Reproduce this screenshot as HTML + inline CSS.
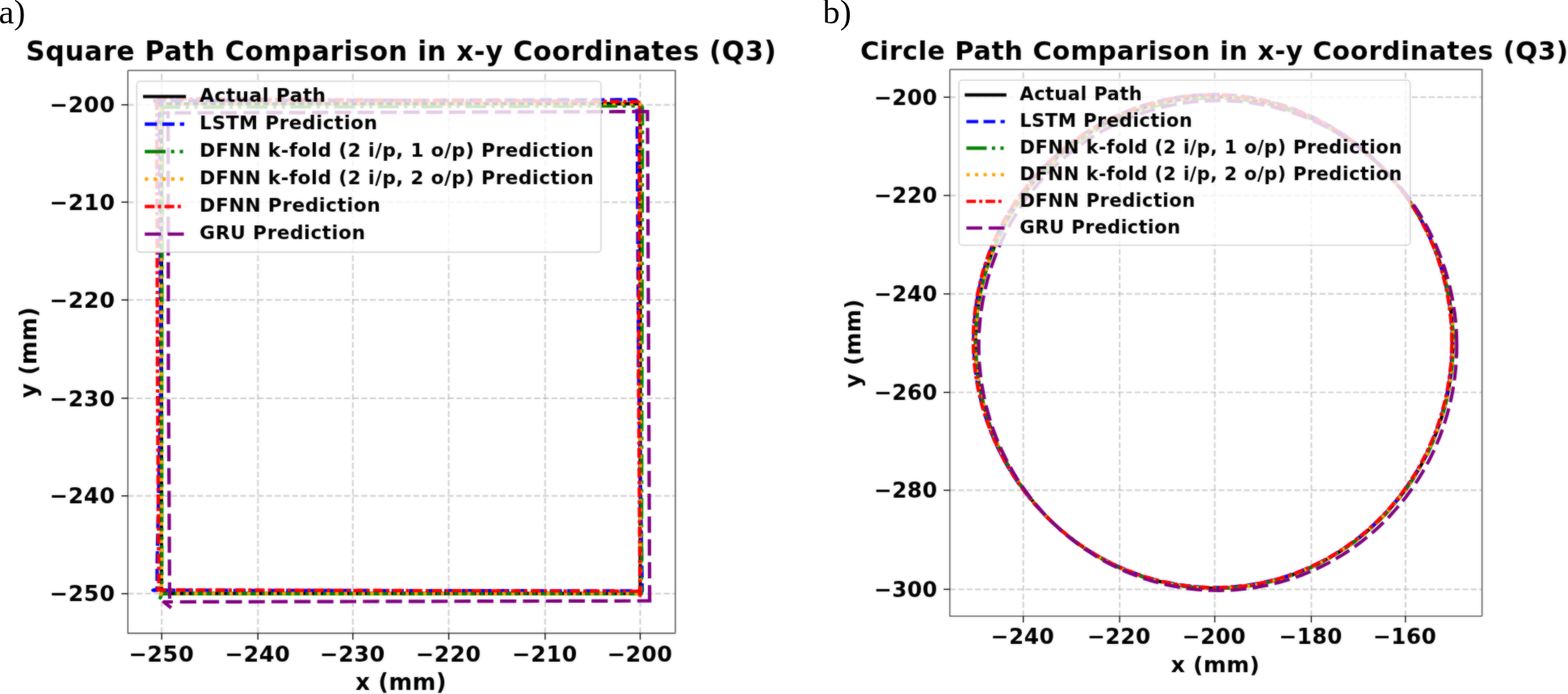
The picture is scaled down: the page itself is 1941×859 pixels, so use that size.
<!DOCTYPE html>
<html lang="en"><head><meta charset="utf-8"><title>Figure</title>
<style>
html,body{margin:0;padding:0;background:#fff;}
body{width:1941px;height:859px;overflow:hidden;position:relative;}
#fig{position:absolute;left:0;top:0;width:1941px;height:859px;}
svg{position:absolute;left:0;top:0;display:block;}
text{font-family:"DejaVu Sans","Liberation Sans",sans-serif;font-weight:bold;fill:#000;white-space:pre;}
.serif{font-family:"Liberation Serif","DejaVu Serif",serif;font-weight:normal;}
.grid{stroke:#b0b0b0;stroke-opacity:.58;fill:none;}
.spine{stroke:#4a4a4a;fill:none;}
.spine2{stroke:#5c5c5c;fill:none;}
.tk{stroke:#000;fill:none;}
.ln{fill:none;stroke-linejoin:round;stroke-linecap:butt;}
</style></head><body>
<div id="fig">
<svg width="1941" height="859" viewBox="0 0 1941 859">
<defs><filter id="soft" x="0" y="0" width="1941" height="859" filterUnits="userSpaceOnUse" color-interpolation-filters="sRGB"><feGaussianBlur stdDeviation="1"/></filter></defs>
<g id="plot">
<rect x="0" y="0" width="1941" height="859" fill="#fff"/>
<g id="panel-a">
<clipPath id="clip-panel-a"><rect x="158.3" y="87.3" width="677.70" height="696.40"/></clipPath>
<g class="grid" stroke-width="2.00" stroke-dasharray="7.47 3.23">
<line x1="200.20" y1="783.7" x2="200.20" y2="87.3" stroke-dashoffset="0"/>
<line x1="319.30" y1="783.7" x2="319.30" y2="87.3" stroke-dashoffset="0"/>
<line x1="436.80" y1="783.7" x2="436.80" y2="87.3" stroke-dashoffset="0"/>
<line x1="555.50" y1="783.7" x2="555.50" y2="87.3" stroke-dashoffset="0"/>
<line x1="674.80" y1="783.7" x2="674.80" y2="87.3" stroke-dashoffset="0"/>
<line x1="792.50" y1="783.7" x2="792.50" y2="87.3" stroke-dashoffset="0"/>
<line x1="158.3" y1="129.75" x2="836.0" y2="129.75" stroke-dashoffset="0"/>
<line x1="158.3" y1="250.20" x2="836.0" y2="250.20" stroke-dashoffset="0"/>
<line x1="158.3" y1="371.30" x2="836.0" y2="371.30" stroke-dashoffset="0"/>
<line x1="158.3" y1="492.90" x2="836.0" y2="492.90" stroke-dashoffset="0"/>
<line x1="158.3" y1="613.78" x2="836.0" y2="613.78" stroke-dashoffset="0"/>
<line x1="158.3" y1="734.85" x2="836.0" y2="734.85" stroke-dashoffset="0"/>
</g>
<g clip-path="url(#clip-panel-a)">
<path class="ln" d="M199.90,128.50 L790.50,128.40 Q792.50,128.40 792.50,130.40 L792.60,734.60 L199.90,734.60 L199.90,128.50" stroke="#000000" stroke-width="4.2"/>
<path class="ln" d="M189.60,124.80 L785.10,123.41 Q788.60,123.40 788.64,126.90 L790.50,460.00 L795.00,731.40 L189.30,730.60 L194.50,729.50 L194.50,700.00 L199.30,460.00 L197.30,124.80" stroke="#0000ff" stroke-width="4.2" stroke-dasharray="15.10 6.65"/>
<path class="ln" d="M197.30,132.70 L792.70,131.11 Q795.20,131.10 795.20,133.60 L794.00,734.80 L200.40,734.90 L198.30,740.00 L200.40,734.90 L200.20,460.00 L201.00,132.70" stroke="#008000" stroke-width="4.2" stroke-dasharray="25.80 6.70 4.10 6.70 4.10 6.70"/>
<path class="ln" d="M191.00,128.60 L790.60,128.30 Q792.60,128.30 792.60,130.30 L792.80,734.60 L200.00,734.60 L195.60,739.40 L200.00,734.60 L199.40,128.60" stroke="#ffa500" stroke-width="4.2" stroke-dasharray="4.20 6.70"/>
<path class="ln" d="M194.10,122.00 L788.20,125.88 Q791.70,125.90 791.70,129.40 L790.40,460.00 L792.30,740.20 L792.30,731.80 L480.00,730.90 L192.00,730.10 L196.50,727.50 L194.90,460.00 L194.10,122.00" stroke="#ff0000" stroke-width="4.2" stroke-dasharray="12.20 4.05 4.10 4.05"/>
<path class="ln" d="M222.8,745.0 L806.4,743.7 M804.2,744.3 L803.0,460.0 L801.5,136.0 M802.5,138.1 L201.8,139.8 M210.0,740.9 L208.45,460.0 L208.1,137.6" stroke="#800080" stroke-width="4.2" stroke-dasharray="20.15 8.15"/>
<path class="ln" d="M211.9,752.4 L202.8,745.0 L214.0,745.0" stroke="#800080" stroke-width="4.2"/>
</g>
<rect x="169.3" y="100.5" width="574.70" height="211.60" rx="4.4" ry="4.4" fill="#fff" fill-opacity="0.8" stroke="#cccccc" stroke-opacity="0.8" stroke-width="1.60"/>
<line x1="177.10" y1="119.50" x2="230.20" y2="119.50" stroke="#000" stroke-width="4.2"/>
<text font-size="23.3" letter-spacing="0.48" x="247.1" y="126.20">Actual Path</text>
<line x1="179.2" y1="153.55" x2="228.1" y2="153.55" stroke="#0000ff" stroke-width="4.2" stroke-dasharray="15.10 6.65"/>
<text font-size="23.3" letter-spacing="0.48" x="247.1" y="160.25">LSTM Prediction</text>
<line x1="179.2" y1="187.60" x2="228.1" y2="187.60" stroke="#008000" stroke-width="4.2" stroke-dasharray="25.80 6.70 4.10 6.70 4.10 6.70"/>
<text font-size="23.3" letter-spacing="0.48" x="247.1" y="194.30">DFNN k-fold (2 i/p, 1 o/p) Prediction</text>
<line x1="179.2" y1="221.65" x2="228.1" y2="221.65" stroke="#ffa500" stroke-width="4.2" stroke-dasharray="4.20 6.70"/>
<text font-size="23.3" letter-spacing="0.48" x="247.1" y="228.35">DFNN k-fold (2 i/p, 2 o/p) Prediction</text>
<line x1="179.2" y1="255.70" x2="228.1" y2="255.70" stroke="#ff0000" stroke-width="4.2" stroke-dasharray="12.20 4.05 4.10 4.05"/>
<text font-size="23.3" letter-spacing="0.48" x="247.1" y="262.40">DFNN Prediction</text>
<line x1="179.2" y1="289.75" x2="228.1" y2="289.75" stroke="#800080" stroke-width="4.2" stroke-dasharray="20.15 8.15"/>
<text font-size="23.3" letter-spacing="0.48" x="247.1" y="296.45">GRU Prediction</text>
<path class="spine" stroke-width="1.35" d="M158.3,87.3 L158.3,783.7 L836.0,783.7"/>
<path class="spine2" stroke-width="1.55" d="M158.3,87.3 L836.0,87.3 L836.0,783.7"/>
<line class="tk" stroke-width="1.35" x1="200.20" y1="783.7" x2="200.20" y2="791.70"/>
<text font-size="27.2" letter-spacing="0.4" text-anchor="middle" x="199.70" y="818.50">−250</text>
<line class="tk" stroke-width="1.35" x1="319.30" y1="783.7" x2="319.30" y2="791.70"/>
<text font-size="27.2" letter-spacing="0.4" text-anchor="middle" x="318.80" y="818.50">−240</text>
<line class="tk" stroke-width="1.35" x1="436.80" y1="783.7" x2="436.80" y2="791.70"/>
<text font-size="27.2" letter-spacing="0.4" text-anchor="middle" x="436.30" y="818.50">−230</text>
<line class="tk" stroke-width="1.35" x1="555.50" y1="783.7" x2="555.50" y2="791.70"/>
<text font-size="27.2" letter-spacing="0.4" text-anchor="middle" x="555.00" y="818.50">−220</text>
<line class="tk" stroke-width="1.35" x1="674.80" y1="783.7" x2="674.80" y2="791.70"/>
<text font-size="27.2" letter-spacing="0.4" text-anchor="middle" x="674.30" y="818.50">−210</text>
<line class="tk" stroke-width="1.35" x1="792.50" y1="783.7" x2="792.50" y2="791.70"/>
<text font-size="27.2" letter-spacing="0.4" text-anchor="middle" x="792.00" y="818.50">−200</text>
<line class="tk" stroke-width="1.35" x1="158.3" y1="129.75" x2="150.30" y2="129.75"/>
<text font-size="27.2" letter-spacing="0.4" text-anchor="end" x="142.50" y="139.35">−200</text>
<line class="tk" stroke-width="1.35" x1="158.3" y1="250.20" x2="150.30" y2="250.20"/>
<text font-size="27.2" letter-spacing="0.4" text-anchor="end" x="142.50" y="259.80">−210</text>
<line class="tk" stroke-width="1.35" x1="158.3" y1="371.30" x2="150.30" y2="371.30"/>
<text font-size="27.2" letter-spacing="0.4" text-anchor="end" x="142.50" y="380.90">−220</text>
<line class="tk" stroke-width="1.35" x1="158.3" y1="492.90" x2="150.30" y2="492.90"/>
<text font-size="27.2" letter-spacing="0.4" text-anchor="end" x="142.50" y="502.50">−230</text>
<line class="tk" stroke-width="1.35" x1="158.3" y1="613.78" x2="150.30" y2="613.78"/>
<text font-size="27.2" letter-spacing="0.4" text-anchor="end" x="142.50" y="623.38">−240</text>
<line class="tk" stroke-width="1.35" x1="158.3" y1="734.85" x2="150.30" y2="734.85"/>
<text font-size="27.2" letter-spacing="0.4" text-anchor="end" x="142.50" y="744.45">−250</text>
<text font-size="33.0" letter-spacing="0.575" x="32.00" y="75.1">Square Path Comparison in x-y Coordinates (Q3)</text>
<text font-size="27.8" letter-spacing="0.3" x="440.00" y="854.3">x (mm)</text>
<text font-size="27.8" letter-spacing="0.3" transform="translate(45.3,492.6) rotate(-90)">y (mm)</text>
</g>
<g id="panel-b">
<clipPath id="clip-panel-b"><rect x="1175.8" y="85.9" width="658.80" height="676.80"/></clipPath>
<g class="grid" stroke-width="1.95" stroke-dasharray="7.26 3.14">
<line x1="1266.70" y1="762.7" x2="1266.70" y2="85.9" stroke-dashoffset="0"/>
<line x1="1386.00" y1="762.7" x2="1386.00" y2="85.9" stroke-dashoffset="0"/>
<line x1="1503.70" y1="762.7" x2="1503.70" y2="85.9" stroke-dashoffset="0"/>
<line x1="1623.30" y1="762.7" x2="1623.30" y2="85.9" stroke-dashoffset="0"/>
<line x1="1739.80" y1="762.7" x2="1739.80" y2="85.9" stroke-dashoffset="0"/>
<line x1="1175.8" y1="120.33" x2="1834.6" y2="120.33" stroke-dashoffset="0"/>
<line x1="1175.8" y1="241.97" x2="1834.6" y2="241.97" stroke-dashoffset="0"/>
<line x1="1175.8" y1="363.79" x2="1834.6" y2="363.79" stroke-dashoffset="0"/>
<line x1="1175.8" y1="485.62" x2="1834.6" y2="485.62" stroke-dashoffset="0"/>
<line x1="1175.8" y1="606.80" x2="1834.6" y2="606.80" stroke-dashoffset="0"/>
<line x1="1175.8" y1="729.43" x2="1834.6" y2="729.43" stroke-dashoffset="0"/>
</g>
<g clip-path="url(#clip-panel-b)">
<path class="ln" d="M1798.6,423.9 1798.5,414.4 1798.0,404.8 1797.3,395.3 1796.3,385.8 1795.0,376.4 1793.4,367.0 1791.5,357.6 1789.3,348.3 1786.9,339.1 1784.2,330.0 1781.1,320.9 1777.9,312.0 1774.3,303.2 1770.5,294.5 1766.4,285.9 1762.1,277.4 1757.5,269.1 1752.6,261.0 1747.5,253.0 1742.2,245.2 1736.6,237.6 1730.8,230.1 1724.8,222.8 1718.5,215.8 1712.1,208.9 1705.4,202.3 1698.5,195.8 1691.5,189.6 1684.2,183.6 1676.8,177.9 1669.2,172.4 1661.4,167.2 1653.5,162.2 1645.5,157.4 1637.3,153.0 1628.9,148.8 1620.5,144.8 1611.9,141.2 1603.2,137.8 1594.4,134.7 1585.6,131.9 1576.6,129.4 1567.6,127.1 1558.5,125.2 1549.3,123.6 1540.2,122.2 1530.9,121.2 1521.7,120.4 1512.4,120.0 1503.1,119.8 1493.8,120.0 1484.6,120.4 1475.3,121.2 1466.1,122.3 1456.9,123.6 1447.8,125.3 1438.7,127.2 1429.6,129.4 1420.7,132.0 1411.8,134.8 1403.1,137.9 1394.4,141.2 1385.8,144.9 1377.3,148.8 1369.0,153.0 1360.8,157.5 1352.7,162.2 1344.8,167.2 1337.1,172.5 1329.5,178.0 1322.0,183.7 1314.8,189.6 1307.7,195.8 1300.9,202.3 1294.2,208.9 1287.7,215.8 1281.5,222.8 1275.4,230.1 1269.6,237.5 1264.0,245.2 1258.7,253.0 1253.6,261.0 1248.7,269.1 1244.1,277.4 1239.7,285.8 1235.7,294.4 1231.8,303.1 1228.3,311.9 1225.0,320.9 1222.0,329.9 1219.2,339.1 1216.8,348.3 1214.6,357.6 1212.8,366.9 1211.2,376.4 1209.9,385.8 1208.9,395.3 1208.2,404.8 1207.8,414.4 1207.6,423.9 1207.8,433.5 1208.3,443.0 1209.0,452.6 1210.1,462.0 1211.4,471.5 1213.1,480.9 1215.0,490.2 1217.2,499.5 1219.7,508.7 1222.4,517.8 1225.5,526.8 1228.8,535.7 1232.4,544.5 1236.2,553.2 1240.3,561.8 1244.7,570.2 1249.3,578.5 1254.2,586.6 1259.3,594.5 1264.6,602.3 1270.2,609.9 1276.0,617.4 1282.0,624.6 1288.2,631.6 1294.7,638.5 1301.3,645.1 1308.2,651.5 1315.2,657.7 1322.4,663.7 1329.8,669.4 1337.4,674.9 1345.1,680.2 1353.0,685.2 1361.0,690.0 1369.2,694.4 1377.5,698.7 1386.0,702.6 1394.5,706.3 1403.2,709.7 1411.9,712.8 1420.8,715.7 1429.7,718.2 1438.7,720.5 1447.8,722.5 1456.9,724.2 1466.1,725.5 1475.3,726.6 1484.6,727.4 1493.8,727.9 1503.1,728.1 1512.4,727.9 1521.7,727.5 1530.9,726.8 1540.2,725.7 1549.4,724.4 1558.5,722.8 1567.6,720.8 1576.6,718.6 1585.6,716.1 1594.5,713.3 1603.3,710.2 1611.9,706.8 1620.5,703.2 1629.0,699.2 1637.3,695.0 1645.5,690.5 1653.6,685.8 1661.5,680.8 1669.2,675.5 1676.8,670.0 1684.2,664.3 1691.5,658.3 1698.5,652.1 1705.4,645.6 1712.1,639.0 1718.5,632.1 1724.7,625.0 1730.8,617.8 1736.6,610.3 1742.1,602.7 1747.5,594.9 1752.6,586.9 1757.4,578.7 1762.0,570.4 1766.3,562.0 1770.4,553.4 1774.2,544.7 1777.8,535.9 1781.1,526.9 1784.1,517.9 1786.8,508.8 1789.3,499.6 1791.4,490.3 1793.3,480.9 1794.9,471.5 1796.2,462.1 1797.3,452.6 1798.0,443.0 1798.4,433.5 1798.6,423.9" stroke="#000000" stroke-width="4.1"/>
<path class="ln" d="M1797.7,423.9 1797.6,414.4 1797.1,404.9 1796.4,395.4 1795.4,385.9 1794.2,376.5 1792.6,367.1 1790.8,357.8 1788.6,348.5 1786.2,339.3 1783.6,330.2 1780.6,321.1 1777.4,312.2 1773.9,303.3 1770.1,294.6 1766.1,286.0 1761.8,277.5 1757.3,269.2 1752.5,261.0 1747.5,253.0 1742.3,245.1 1736.8,237.4 1731.0,229.9 1725.1,222.6 1718.9,215.4 1712.5,208.5 1705.9,201.8 1699.1,195.2 1692.1,188.9 1684.9,182.8 1677.5,177.0 1669.9,171.4 1662.2,166.0 1654.3,160.9 1646.2,156.1 1638.0,151.5 1629.7,147.2 1621.2,143.2 1612.6,139.4 1603.9,135.9 1595.1,132.7 1586.2,129.8 1577.2,127.2 1568.1,124.9 1559.0,122.9 1549.7,121.1 1540.5,119.7 1531.2,118.6 1521.8,117.8 1512.5,117.3 1503.1,117.1 1493.8,117.3 1484.4,117.7 1475.0,118.4 1465.7,119.5 1456.4,120.8 1447.2,122.5 1438.0,124.4 1428.9,126.7 1419.9,129.2 1410.9,132.0 1402.1,135.2 1393.3,138.6 1384.6,142.3 1376.1,146.3 1367.7,150.5 1359.4,155.0 1351.3,159.8 1343.3,164.8 1335.4,170.1 1327.8,175.7 1320.3,181.5 1313.0,187.5 1305.8,193.8 1298.9,200.2 1292.2,207.0 1285.7,213.9 1279.3,221.0 1273.3,228.3 1267.4,235.8 1261.8,243.6 1256.4,251.4 1251.2,259.5 1246.3,267.7 1241.7,276.1 1237.3,284.6 1233.2,293.3 1229.3,302.1 1225.7,311.0 1222.4,320.0 1219.4,329.1 1216.7,338.3 1214.2,347.6 1212.1,357.0 1210.2,366.5 1208.6,376.0 1207.3,385.5 1206.4,395.1 1205.7,404.7 1205.3,414.3 1205.2,423.9 1205.5,433.6 1206.0,443.2 1206.8,452.8 1207.9,462.3 1209.4,471.8 1211.1,481.3 1213.1,490.6 1215.4,500.0 1218.0,509.2 1220.8,518.3 1224.0,527.4 1227.4,536.3 1231.1,545.1 1235.0,553.8 1239.2,562.3 1243.7,570.7 1248.4,579.0 1253.4,587.0 1258.6,595.0 1264.0,602.7 1269.7,610.3 1275.6,617.7 1281.7,624.9 1288.0,631.8 1294.5,638.6 1301.3,645.2 1308.2,651.6 1315.3,657.7 1322.5,663.6 1330.0,669.3 1337.6,674.7 1345.3,679.9 1353.3,684.8 1361.3,689.5 1369.5,693.9 1377.8,698.1 1386.2,702.0 1394.8,705.6 1403.4,709.0 1412.2,712.1 1421.0,714.9 1429.9,717.4 1438.9,719.7 1448.0,721.6 1457.1,723.3 1466.2,724.6 1475.4,725.7 1484.6,726.5 1493.9,727.0 1503.1,727.2 1512.4,727.0 1521.6,726.6 1530.8,725.9 1540.1,724.9 1549.2,723.6 1558.4,722.0 1567.4,720.1 1576.4,717.9 1585.4,715.4 1594.2,712.6 1603.0,709.5 1611.7,706.2 1620.2,702.5 1628.7,698.6 1637.0,694.4 1645.2,690.0 1653.3,685.2 1661.2,680.3 1668.9,675.0 1676.5,669.5 1683.9,663.8 1691.1,657.8 1698.1,651.6 1705.0,645.2 1711.6,638.6 1718.1,631.7 1724.3,624.6 1730.3,617.4 1736.1,609.9 1741.6,602.3 1746.9,594.5 1752.0,586.5 1756.8,578.4 1761.4,570.1 1765.7,561.7 1769.7,553.1 1773.5,544.4 1777.1,535.6 1780.3,526.7 1783.3,517.7 1786.0,508.5 1788.4,499.4 1790.6,490.1 1792.5,480.8 1794.1,471.4 1795.4,461.9 1796.4,452.5 1797.1,443.0 1797.5,433.5 1797.7,423.9" stroke="#0000ff" stroke-width="4.1" stroke-dasharray="14.68 6.47"/>
<path class="ln" d="M1798.9,423.9 1798.7,414.4 1798.3,404.8 1797.6,395.3 1796.5,385.8 1795.2,376.3 1793.6,366.9 1791.7,357.6 1789.5,348.3 1787.1,339.0 1784.3,329.9 1781.3,320.9 1778.0,311.9 1774.4,303.1 1770.5,294.4 1766.4,285.9 1762.1,277.4 1757.4,269.2 1752.5,261.0 1747.4,253.1 1742.0,245.3 1736.4,237.7 1730.6,230.3 1724.5,223.0 1718.3,216.0 1711.8,209.2 1705.1,202.6 1698.2,196.2 1691.1,190.0 1683.8,184.1 1676.4,178.4 1668.8,173.0 1661.0,167.8 1653.1,162.9 1645.0,158.2 1636.8,153.8 1628.5,149.7 1620.0,145.8 1611.5,142.2 1602.8,138.9 1594.1,135.8 1585.2,133.1 1576.3,130.6 1567.3,128.4 1558.2,126.5 1549.1,124.9 1540.0,123.6 1530.8,122.6 1521.6,121.9 1512.4,121.5 1503.1,121.3 1493.9,121.5 1484.7,122.0 1475.5,122.7 1466.3,123.8 1457.1,125.1 1448.1,126.7 1439.0,128.7 1430.0,130.9 1421.1,133.4 1412.3,136.1 1403.5,139.2 1394.9,142.5 1386.3,146.1 1377.9,150.0 1369.6,154.2 1361.4,158.6 1353.4,163.2 1345.5,168.2 1337.7,173.4 1330.1,178.8 1322.7,184.5 1315.4,190.4 1308.3,196.5 1301.5,202.9 1294.8,209.5 1288.3,216.3 1282.0,223.3 1275.9,230.5 1270.1,237.9 1264.5,245.5 1259.1,253.2 1254.0,261.2 1249.1,269.3 1244.4,277.6 1240.1,286.0 1235.9,294.5 1232.1,303.2 1228.5,312.0 1225.2,321.0 1222.1,330.0 1219.4,339.1 1216.9,348.3 1214.7,357.6 1212.8,367.0 1211.2,376.4 1209.9,385.8 1208.9,395.3 1208.2,404.8 1207.8,414.4 1207.6,423.9 1207.8,433.5 1208.3,443.0 1209.0,452.6 1210.1,462.0 1211.4,471.5 1213.1,480.9 1215.0,490.2 1217.2,499.5 1219.7,508.7 1222.4,517.8 1225.5,526.8 1228.8,535.7 1232.4,544.5 1236.2,553.2 1240.3,561.8 1244.7,570.2 1249.3,578.5 1254.2,586.6 1259.3,594.5 1264.6,602.3 1270.2,609.9 1276.0,617.4 1282.0,624.6 1288.2,631.6 1294.7,638.5 1301.3,645.1 1308.2,651.6 1315.2,657.8 1322.4,663.7 1329.8,669.5 1337.4,675.0 1345.1,680.2 1353.0,685.3 1361.0,690.0 1369.2,694.5 1377.5,698.8 1385.9,702.7 1394.5,706.4 1403.1,709.8 1411.9,713.0 1420.7,715.8 1429.7,718.4 1438.7,720.7 1447.7,722.7 1456.9,724.4 1466.1,725.8 1475.3,726.9 1484.6,727.7 1493.8,728.2 1503.1,728.4 1512.4,728.2 1521.7,727.8 1531.0,727.1 1540.2,726.1 1549.4,724.8 1558.6,723.1 1567.7,721.2 1576.7,719.0 1585.7,716.5 1594.6,713.7 1603.4,710.6 1612.1,707.2 1620.7,703.5 1629.2,699.6 1637.5,695.4 1645.7,690.9 1653.8,686.1 1661.7,681.1 1669.5,675.9 1677.1,670.4 1684.5,664.6 1691.8,658.6 1698.8,652.4 1705.7,645.9 1712.3,639.3 1718.8,632.4 1725.0,625.3 1731.1,618.0 1736.9,610.5 1742.4,602.9 1747.8,595.1 1752.9,587.1 1757.7,578.9 1762.3,570.6 1766.7,562.1 1770.7,553.6 1774.6,544.8 1778.1,536.0 1781.4,527.1 1784.4,518.0 1787.1,508.9 1789.6,499.6 1791.8,490.3 1793.7,481.0 1795.3,471.6 1796.6,462.1 1797.6,452.6 1798.3,443.1 1798.8,433.5 1798.9,423.9" stroke="#008000" stroke-width="4.1" stroke-dasharray="25.09 6.52 3.99 6.52 3.99 6.52"/>
<path class="ln" d="M1798.6,423.9 1798.5,414.4 1798.0,404.8 1797.3,395.3 1796.3,385.8 1795.0,376.4 1793.4,367.0 1791.5,357.6 1789.3,348.3 1786.9,339.1 1784.2,330.0 1781.1,320.9 1777.9,312.0 1774.3,303.2 1770.5,294.5 1766.4,285.9 1762.1,277.4 1757.5,269.1 1752.6,261.0 1747.5,253.0 1742.2,245.2 1736.6,237.6 1730.8,230.1 1724.8,222.8 1718.5,215.8 1712.1,208.9 1705.4,202.3 1698.5,195.8 1691.5,189.6 1684.2,183.6 1676.8,177.9 1669.2,172.4 1661.4,167.2 1653.5,162.2 1645.5,157.4 1637.3,153.0 1628.9,148.8 1620.5,144.8 1611.9,141.2 1603.2,137.8 1594.4,134.7 1585.6,131.9 1576.6,129.4 1567.6,127.1 1558.5,125.2 1549.3,123.6 1540.2,122.2 1530.9,121.2 1521.7,120.4 1512.4,120.0 1503.1,119.8 1493.8,120.0 1484.6,120.4 1475.3,121.2 1466.1,122.3 1456.9,123.6 1447.8,125.3 1438.7,127.2 1429.6,129.4 1420.7,132.0 1411.8,134.8 1403.1,137.9 1394.4,141.2 1385.8,144.9 1377.3,148.8 1369.0,153.0 1360.8,157.5 1352.7,162.2 1344.8,167.2 1337.1,172.5 1329.5,178.0 1322.0,183.7 1314.8,189.6 1307.7,195.8 1300.9,202.3 1294.2,208.9 1287.7,215.8 1281.5,222.8 1275.4,230.1 1269.6,237.5 1264.0,245.2 1258.7,253.0 1253.6,261.0 1248.7,269.1 1244.1,277.4 1239.7,285.8 1235.7,294.4 1231.8,303.1 1228.3,311.9 1225.0,320.9 1222.0,329.9 1219.2,339.1 1216.8,348.3 1214.6,357.6 1212.8,366.9 1211.2,376.4 1209.9,385.8 1208.9,395.3 1208.2,404.8 1207.8,414.4 1207.6,423.9 1207.8,433.5 1208.3,443.0 1209.0,452.6 1210.1,462.0 1211.4,471.5 1213.1,480.9 1215.0,490.2 1217.2,499.5 1219.7,508.7 1222.4,517.8 1225.5,526.8 1228.8,535.7 1232.4,544.5 1236.2,553.2 1240.3,561.8 1244.7,570.2 1249.3,578.5 1254.2,586.6 1259.3,594.5 1264.6,602.3 1270.2,609.9 1276.0,617.4 1282.0,624.6 1288.2,631.6 1294.7,638.5 1301.3,645.1 1308.2,651.5 1315.2,657.7 1322.4,663.7 1329.8,669.4 1337.4,674.9 1345.1,680.2 1353.0,685.2 1361.0,690.0 1369.2,694.4 1377.5,698.7 1386.0,702.6 1394.5,706.3 1403.2,709.7 1411.9,712.8 1420.8,715.7 1429.7,718.2 1438.7,720.5 1447.8,722.5 1456.9,724.2 1466.1,725.5 1475.3,726.6 1484.6,727.4 1493.8,727.9 1503.1,728.1 1512.4,727.9 1521.7,727.5 1530.9,726.8 1540.2,725.7 1549.4,724.4 1558.5,722.8 1567.6,720.8 1576.6,718.6 1585.6,716.1 1594.5,713.3 1603.3,710.2 1611.9,706.8 1620.5,703.2 1629.0,699.2 1637.3,695.0 1645.5,690.5 1653.6,685.8 1661.5,680.8 1669.2,675.5 1676.8,670.0 1684.2,664.3 1691.5,658.3 1698.5,652.1 1705.4,645.6 1712.1,639.0 1718.5,632.1 1724.7,625.0 1730.8,617.8 1736.6,610.3 1742.1,602.7 1747.5,594.9 1752.6,586.9 1757.4,578.7 1762.0,570.4 1766.3,562.0 1770.4,553.4 1774.2,544.7 1777.8,535.9 1781.1,526.9 1784.1,517.9 1786.8,508.8 1789.3,499.6 1791.4,490.3 1793.3,480.9 1794.9,471.5 1796.2,462.1 1797.3,452.6 1798.0,443.0 1798.4,433.5 1798.6,423.9" stroke="#ffa500" stroke-width="4.1" stroke-dasharray="4.08 6.52"/>
<path class="ln" d="M1797.1,423.9 1797.0,414.4 1796.6,404.9 1795.9,395.5 1794.9,386.0 1793.6,376.6 1792.1,367.2 1790.3,357.9 1788.1,348.6 1785.8,339.4 1783.1,330.3 1780.2,321.3 1777.0,312.3 1773.5,303.5 1769.8,294.8 1765.8,286.2 1761.5,277.7 1757.0,269.4 1752.2,261.2 1747.2,253.2 1742.0,245.3 1736.5,237.6 1730.8,230.1 1724.8,222.8 1718.7,215.6 1712.3,208.7 1705.7,202.0 1698.9,195.4 1691.9,189.1 1684.7,183.1 1677.3,177.2 1669.8,171.6 1662.0,166.3 1654.1,161.2 1646.1,156.3 1637.9,151.8 1629.6,147.4 1621.1,143.4 1612.5,139.7 1603.8,136.2 1595.0,133.0 1586.1,130.1 1577.1,127.5 1568.0,125.2 1558.9,123.1 1549.7,121.4 1540.4,120.0 1531.1,118.9 1521.8,118.1 1512.5,117.6 1503.1,117.4 1493.8,117.6 1484.4,118.0 1475.1,118.7 1465.8,119.7 1456.5,121.1 1447.3,122.7 1438.1,124.7 1429.0,126.9 1419.9,129.4 1411.0,132.2 1402.1,135.3 1393.3,138.7 1384.7,142.4 1376.1,146.4 1367.7,150.6 1359.4,155.1 1351.3,159.8 1343.3,164.9 1335.4,170.1 1327.7,175.6 1320.2,181.4 1312.9,187.4 1305.8,193.7 1298.8,200.1 1292.0,206.8 1285.5,213.7 1279.1,220.8 1273.0,228.1 1267.1,235.7 1261.5,243.4 1256.0,251.2 1250.9,259.3 1245.9,267.5 1241.3,275.9 1236.8,284.4 1232.7,293.1 1228.8,301.9 1225.2,310.8 1221.9,319.8 1218.9,328.9 1216.1,338.2 1213.7,347.5 1211.5,356.9 1209.6,366.4 1208.1,375.9 1206.8,385.4 1205.8,395.0 1205.2,404.7 1204.8,414.3 1204.7,423.9 1205.0,433.6 1205.5,443.2 1206.4,452.8 1207.5,462.4 1209.0,471.9 1210.7,481.3 1212.8,490.7 1215.1,500.0 1217.7,509.3 1220.6,518.4 1223.8,527.4 1227.2,536.3 1230.9,545.1 1234.9,553.8 1239.1,562.4 1243.6,570.7 1248.4,579.0 1253.4,587.1 1258.6,595.0 1264.1,602.7 1269.7,610.3 1275.6,617.6 1281.8,624.8 1288.1,631.8 1294.6,638.6 1301.3,645.1 1308.3,651.5 1315.3,657.6 1322.6,663.5 1330.0,669.2 1337.6,674.6 1345.4,679.8 1353.3,684.7 1361.3,689.4 1369.5,693.9 1377.8,698.0 1386.3,701.9 1394.8,705.6 1403.4,709.0 1412.2,712.1 1421.0,714.9 1429.9,717.4 1438.9,719.7 1448.0,721.6 1457.1,723.3 1466.2,724.7 1475.4,725.8 1484.6,726.6 1493.9,727.1 1503.1,727.3 1512.4,727.1 1521.6,726.7 1530.9,726.0 1540.1,725.0 1549.2,723.7 1558.4,722.1 1567.4,720.2 1576.5,718.0 1585.4,715.4 1594.3,712.7 1603.0,709.6 1611.7,706.2 1620.2,702.5 1628.7,698.6 1637.0,694.4 1645.2,689.9 1653.2,685.2 1661.1,680.2 1668.8,674.9 1676.4,669.4 1683.8,663.7 1691.0,657.7 1698.0,651.5 1704.8,645.0 1711.4,638.4 1717.8,631.5 1724.0,624.4 1730.0,617.1 1735.7,609.7 1741.2,602.0 1746.5,594.2 1751.6,586.3 1756.4,578.1 1760.9,569.8 1765.2,561.4 1769.2,552.9 1773.0,544.2 1776.5,535.4 1779.8,526.5 1782.7,517.5 1785.4,508.4 1787.8,499.2 1790.0,490.0 1791.9,480.6 1793.4,471.3 1794.7,461.9 1795.8,452.4 1796.5,442.9 1796.9,433.4 1797.1,423.9" stroke="#ff0000" stroke-width="4.1" stroke-dasharray="11.86 3.94 3.99 3.94"/>
<path class="ln" d="M1803.3,426.8 1803.1,417.2 1802.7,407.5 1801.9,397.8 1800.8,388.2 1799.4,378.6 1797.8,369.1 1795.8,359.6 1793.6,350.2 1791.0,340.9 1788.2,331.7 1785.1,322.6 1781.7,313.6 1778.0,304.7 1774.1,296.0 1769.9,287.3 1765.5,278.9 1760.7,270.5 1755.8,262.4 1750.5,254.4 1745.1,246.6 1739.4,239.0 1733.5,231.6 1727.3,224.4 1721.0,217.3 1714.4,210.5 1707.6,204.0 1700.7,197.6 1693.5,191.5 1686.2,185.6 1678.7,180.0 1671.1,174.6 1663.2,169.5 1655.3,164.7 1647.2,160.1 1639.0,155.7 1630.6,151.7 1622.1,147.9 1613.6,144.4 1604.9,141.1 1596.2,138.2 1587.4,135.5 1578.5,133.1 1569.5,131.0 1560.5,129.2 1551.5,127.7 1542.4,126.5 1533.3,125.5 1524.1,124.9 1515.0,124.5 1505.9,124.4 1496.7,124.6 1487.6,125.1 1478.5,125.9 1469.5,126.9 1460.4,128.3 1451.5,129.9 1442.5,131.8 1433.7,134.0 1424.9,136.5 1416.2,139.2 1407.6,142.3 1399.1,145.5 1390.7,149.1 1382.3,152.9 1374.2,157.0 1366.1,161.3 1358.2,165.9 1350.4,170.7 1342.7,175.8 1335.2,181.1 1327.9,186.6 1320.8,192.4 1313.8,198.4 1307.0,204.6 1300.4,211.1 1293.9,217.7 1287.7,224.5 1281.7,231.6 1275.9,238.8 1270.3,246.2 1265.0,253.8 1259.9,261.6 1255.0,269.5 1250.3,277.6 1245.9,285.8 1241.8,294.1 1237.9,302.6 1234.2,311.2 1230.9,320.0 1227.7,328.8 1224.9,337.7 1222.3,346.8 1220.0,355.9 1218.0,365.0 1216.2,374.3 1214.8,383.6 1213.6,392.9 1212.7,402.3 1212.0,411.7 1211.7,421.1 1211.6,430.6 1211.9,440.0 1212.4,449.4 1213.2,458.8 1214.3,468.2 1215.7,477.5 1217.3,486.8 1219.2,496.1 1221.5,505.3 1224.0,514.4 1226.7,523.4 1229.8,532.3 1233.1,541.2 1236.7,549.9 1240.6,558.5 1244.7,567.0 1249.1,575.3 1253.7,583.6 1258.6,591.6 1263.7,599.5 1269.1,607.2 1274.7,614.8 1280.5,622.2 1286.6,629.4 1292.8,636.4 1299.3,643.2 1306.0,649.7 1312.9,656.1 1320.0,662.2 1327.3,668.2 1334.8,673.8 1342.4,679.3 1350.2,684.4 1358.2,689.4 1366.3,694.1 1374.5,698.5 1382.9,702.6 1391.4,706.5 1400.0,710.1 1408.8,713.4 1417.6,716.5 1426.5,719.3 1435.6,721.7 1444.7,723.9 1453.8,725.8 1463.0,727.4 1472.3,728.7 1481.6,729.7 1491.0,730.4 1500.3,730.8 1509.7,730.9 1519.1,730.7 1528.4,730.2 1537.8,729.3 1547.1,728.2 1556.4,726.8 1565.7,725.1 1574.9,723.0 1584.0,720.7 1593.1,718.1 1602.1,715.2 1611.0,712.0 1619.8,708.4 1628.5,704.7 1637.0,700.6 1645.5,696.2 1653.8,691.6 1661.9,686.7 1669.9,681.5 1677.8,676.0 1685.4,670.3 1692.9,664.4 1700.2,658.2 1707.3,651.7 1714.2,645.1 1720.9,638.2 1727.3,631.0 1733.6,623.7 1739.6,616.2 1745.3,608.5 1750.9,600.6 1756.1,592.5 1761.1,584.2 1765.9,575.8 1770.4,567.2 1774.6,558.5 1778.5,549.6 1782.2,540.7 1785.5,531.6 1788.6,522.4 1791.4,513.1 1793.9,503.7 1796.2,494.3 1798.1,484.8 1799.7,475.2 1801.0,465.6 1802.0,455.9 1802.8,446.2 1803.2,436.5 1803.3,426.8" stroke="#800080" stroke-width="4.1" stroke-dasharray="19.54 7.90"/>
</g>
<rect x="1187.0" y="99.3" width="558.70" height="204.25" rx="4.3" ry="4.3" fill="#fff" fill-opacity="0.8" stroke="#cccccc" stroke-opacity="0.8" stroke-width="1.56"/>
<line x1="1194.25" y1="117.50" x2="1245.85" y2="117.50" stroke="#000" stroke-width="4.1"/>
<text font-size="22.66" letter-spacing="0.44" x="1262.2" y="124.00">Actual Path</text>
<line x1="1196.3" y1="150.44" x2="1243.8" y2="150.44" stroke="#0000ff" stroke-width="4.1" stroke-dasharray="14.68 6.47"/>
<text font-size="22.66" letter-spacing="0.44" x="1262.2" y="156.94">LSTM Prediction</text>
<line x1="1196.3" y1="183.38" x2="1243.8" y2="183.38" stroke="#008000" stroke-width="4.1" stroke-dasharray="25.09 6.52 3.99 6.52 3.99 6.52"/>
<text font-size="22.66" letter-spacing="0.44" x="1262.2" y="189.88">DFNN k-fold (2 i/p, 1 o/p) Prediction</text>
<line x1="1196.3" y1="216.32" x2="1243.8" y2="216.32" stroke="#ffa500" stroke-width="4.1" stroke-dasharray="4.08 6.52"/>
<text font-size="22.66" letter-spacing="0.44" x="1262.2" y="222.82">DFNN k-fold (2 i/p, 2 o/p) Prediction</text>
<line x1="1196.3" y1="249.26" x2="1243.8" y2="249.26" stroke="#ff0000" stroke-width="4.1" stroke-dasharray="11.86 3.94 3.99 3.94"/>
<text font-size="22.66" letter-spacing="0.44" x="1262.2" y="255.76">DFNN Prediction</text>
<line x1="1196.3" y1="282.20" x2="1243.8" y2="282.20" stroke="#800080" stroke-width="4.1" stroke-dasharray="19.60 7.93"/>
<text font-size="22.66" letter-spacing="0.44" x="1262.2" y="288.70">GRU Prediction</text>
<path class="spine" stroke-width="1.31" d="M1175.8,85.9 L1175.8,762.7 L1834.6,762.7"/>
<path class="spine2" stroke-width="1.51" d="M1175.8,85.9 L1834.6,85.9 L1834.6,762.7"/>
<line class="tk" stroke-width="1.31" x1="1266.70" y1="762.7" x2="1266.70" y2="770.48"/>
<text font-size="26.45" letter-spacing="0.4" text-anchor="middle" x="1265.80" y="796.60">−240</text>
<line class="tk" stroke-width="1.31" x1="1386.00" y1="762.7" x2="1386.00" y2="770.48"/>
<text font-size="26.45" letter-spacing="0.4" text-anchor="middle" x="1385.10" y="796.60">−220</text>
<line class="tk" stroke-width="1.31" x1="1503.70" y1="762.7" x2="1503.70" y2="770.48"/>
<text font-size="26.45" letter-spacing="0.4" text-anchor="middle" x="1502.80" y="796.60">−200</text>
<line class="tk" stroke-width="1.31" x1="1623.30" y1="762.7" x2="1623.30" y2="770.48"/>
<text font-size="26.45" letter-spacing="0.4" text-anchor="middle" x="1622.40" y="796.60">−180</text>
<line class="tk" stroke-width="1.31" x1="1739.80" y1="762.7" x2="1739.80" y2="770.48"/>
<text font-size="26.45" letter-spacing="0.4" text-anchor="middle" x="1738.90" y="796.60">−160</text>
<line class="tk" stroke-width="1.31" x1="1175.8" y1="120.33" x2="1168.02" y2="120.33"/>
<text font-size="26.45" letter-spacing="0.4" text-anchor="end" x="1160.60" y="129.73">−200</text>
<line class="tk" stroke-width="1.31" x1="1175.8" y1="241.97" x2="1168.02" y2="241.97"/>
<text font-size="26.45" letter-spacing="0.4" text-anchor="end" x="1160.60" y="251.37">−220</text>
<line class="tk" stroke-width="1.31" x1="1175.8" y1="363.79" x2="1168.02" y2="363.79"/>
<text font-size="26.45" letter-spacing="0.4" text-anchor="end" x="1160.60" y="373.19">−240</text>
<line class="tk" stroke-width="1.31" x1="1175.8" y1="485.62" x2="1168.02" y2="485.62"/>
<text font-size="26.45" letter-spacing="0.4" text-anchor="end" x="1160.60" y="495.02">−260</text>
<line class="tk" stroke-width="1.31" x1="1175.8" y1="606.80" x2="1168.02" y2="606.80"/>
<text font-size="26.45" letter-spacing="0.4" text-anchor="end" x="1160.60" y="616.20">−280</text>
<line class="tk" stroke-width="1.31" x1="1175.8" y1="729.43" x2="1168.02" y2="729.43"/>
<text font-size="26.45" letter-spacing="0.4" text-anchor="end" x="1160.60" y="738.83">−300</text>
<text font-size="32.09" letter-spacing="0.545" x="1065.00" y="74.0">Circle Path Comparison in x-y Coordinates (Q3)</text>
<text font-size="27.04" letter-spacing="0.3" x="1449.60" y="831.6">x (mm)</text>
<text font-size="27.04" letter-spacing="0.3" transform="translate(1064.5,480.0) rotate(-90)">y (mm)</text>
</g>
</g>
<use href="#plot" filter="url(#soft)" opacity="0.45"/>
<g id="tags">
<text class="serif" font-size="42.5" x="-1.6" y="28.9">a)</text>
<text class="serif" font-size="42.5" x="1018.4" y="28.9">b)</text>
</g>
</svg></div></body></html>
